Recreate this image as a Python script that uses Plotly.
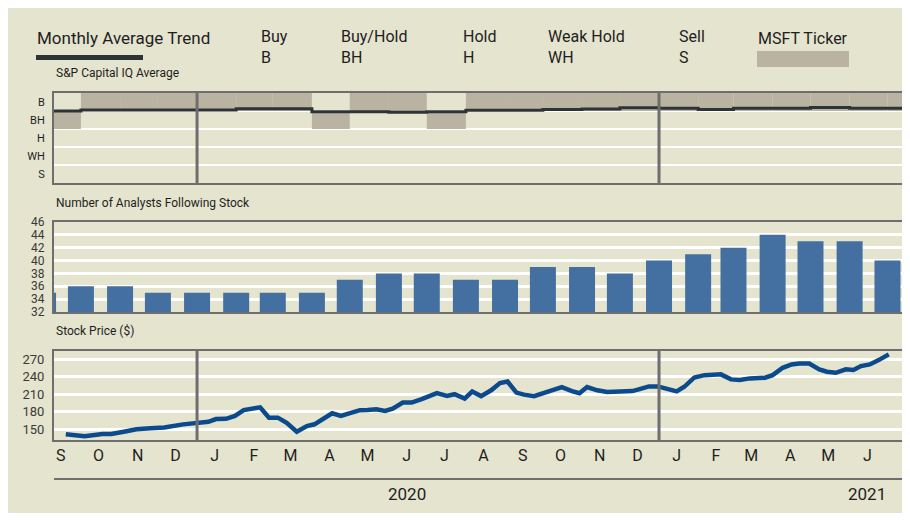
import plotly.graph_objects as go
import pandas as pd

# ---------------- data ----------------
month_starts = pd.date_range("2019-09-01", "2021-07-01", freq="MS")  # 23 months
analysts = [35, 36, 36, 35, 35, 35, 35, 35, 37, 38, 38, 37, 37, 39, 39, 38, 40, 41, 42, 44, 43, 43, 40]
ticker_rating = ["BH", "B", "B", "B", "B", "B", "B", "BH", "B", "B", "BH", "B",
                 "B", "B", "B", "B", "B", "B", "B", "B", "B", "B", "B"]
sp_average = [1.50, 1.44, 1.44, 1.44, 1.44, 1.37, 1.37, 1.54, 1.54, 1.57, 1.54, 1.46,
              1.46, 1.41, 1.39, 1.32, 1.35, 1.41, 1.35, 1.35, 1.30, 1.35, 1.35]
sp_average_end = "2021-07-15"

rating_labels = ["B", "BH", "H", "WH", "S"]
rating_values = [1, 2, 3, 4, 5]

price_dates = ["2019-09-19", "2019-09-27", "2019-10-04", "2019-10-18", "2019-10-25", "2019-11-04",
               "2019-11-14", "2019-11-25", "2019-12-06", "2019-12-21", "2020-01-01", "2020-01-10",
               "2020-01-16", "2020-01-24", "2020-01-31", "2020-02-07", "2020-02-20", "2020-02-27",
               "2020-03-05", "2020-03-12", "2020-03-20", "2020-03-28", "2020-04-03", "2020-04-09",
               "2020-04-17", "2020-04-24", "2020-05-01", "2020-05-09", "2020-05-15", "2020-05-22",
               "2020-05-29", "2020-06-04", "2020-06-12", "2020-06-19", "2020-06-27", "2020-07-03",
               "2020-07-09", "2020-07-17", "2020-07-23", "2020-07-31", "2020-08-06", "2020-08-13",
               "2020-08-21", "2020-08-28", "2020-09-03", "2020-09-10", "2020-09-16", "2020-09-24",
               "2020-10-02", "2020-10-10", "2020-10-16", "2020-10-24", "2020-10-30", "2020-11-05",
               "2020-11-13", "2020-11-21", "2020-12-02", "2020-12-11", "2020-12-18", "2020-12-24",
               "2020-12-31", "2021-01-07", "2021-01-15", "2021-01-21", "2021-01-29", "2021-02-06",
               "2021-02-14", "2021-02-19", "2021-02-27", "2021-03-06", "2021-03-14", "2021-03-26",
               "2021-04-01", "2021-04-09", "2021-04-16", "2021-04-22", "2021-04-30", "2021-05-08",
               "2021-05-14", "2021-05-21", "2021-05-29", "2021-06-04", "2021-06-10", "2021-06-17",
               "2021-06-24", "2021-07-02"]
price_values = [141.4, 139.7, 138.0, 142.0, 142.0, 146.0,
                150.0, 151.7, 153.0, 158.5, 160.5, 163.0,
                167.7, 168.0, 173.0, 183.0, 187.7, 170.0,
                170.0, 161.0, 146.0, 155.7, 158.6, 167.0,
                177.6, 173.0, 177.6, 182.8, 183.0, 184.5,
                181.6, 185.6, 196.0, 196.0, 201.7, 206.0,
                212.0, 207.4, 210.3, 202.8, 214.8, 207.0,
                217.0, 229.4, 232.0, 213.0, 209.5, 207.0,
                213.0, 217.0, 222.5, 215.7, 212.0, 222.5,
                217.0, 214.0, 215.0, 215.7, 220.0, 223.7,
                223.7, 219.8, 215.0, 223.0, 239.0, 243.0,
                244.8, 244.3, 235.7, 234.5, 237.4, 238.5,
                243.0, 255.6, 261.4, 263.0, 263.0, 252.9,
                248.8, 247.0, 253.0, 251.7, 258.5, 261.4,
                268.8, 278.6]

month_letters = ["S", "O", "N", "D", "J", "F", "M", "A", "M", "J", "J", "A",
                 "S", "O", "N", "D", "J", "F", "M", "A", "M", "J"]
year_labels = ["2020", "2021"]

analyst_ticks = [32, 34, 36, 38, 40, 42, 44, 46]
price_ticks = [150, 180, 210, 240, 270]

legend_full = ["Buy", "Buy/Hold", "Hold", "Weak Hold", "Sell"]
legend_short = ["B", "BH", "H", "WH", "S"]

# ---------------- styling ----------------
BG = "#E5E4CE"
FRAME = "#6E6E6E"
BAND = "#BAB3A2"
DARK = "#2D3438"
BARC = "#4470A1"
PRICEC = "#0B4A8C"
TXT = "#1E1E1E"
FONT = "Roboto"

OFF = 8                 # page offset of the figure in the browser
W, H = 902, 505
ML, MR = 46, 8
PW = W - ML - MR


def px(x):
    """screen x pixel -> paper fraction"""
    return (x - OFF - ML) / PW


def py(y):
    """screen y pixel -> paper fraction"""
    return 1 - (y - OFF) / H


x_range = ["2019-09-09 16:00", "2021-07-12 12:00"]
day_ms = 86400000

# bands for ticker rating
band_width = [((month_starts[i + 1] if i + 1 < len(month_starts) else pd.Timestamp("2021-08-01"))
               - month_starts[i]).days * day_ms for i in range(len(month_starts))]
rating_map = dict(zip(rating_labels, rating_values))
band_base = [rating_map[r] - 0.5 for r in ticker_rating]

fig = go.Figure()

fig.add_trace(go.Bar(
    x=month_starts, y=[1] * len(month_starts), base=band_base, width=band_width, offset=0,
    marker=dict(color=BAND, line=dict(width=0)), xaxis="x", yaxis="y", showlegend=False,
    hoverinfo="skip"))

sp_x = list(month_starts) + [pd.Timestamp(sp_average_end)]
sp_y = sp_average + [sp_average[-1]]
fig.add_trace(go.Scatter(
    x=sp_x, y=sp_y, mode="lines", line=dict(color=DARK, width=3, shape="hv"),
    xaxis="x", yaxis="y", showlegend=False))

fig.add_trace(go.Bar(
    x=month_starts, y=analysts, width=20.6 * day_ms, marker=dict(color=BARC, line=dict(width=0)),
    xaxis="x2", yaxis="y2", showlegend=False))

fig.add_trace(go.Scatter(
    x=pd.to_datetime(price_dates), y=price_values, mode="lines",
    line=dict(color=PRICEC, width=4.5), xaxis="x3", yaxis="y3", showlegend=False))

axis_common = dict(showline=True, mirror=True, linecolor=FRAME, linewidth=2, zeroline=False)

mid_months = [m + pd.Timedelta(days=14) for m in month_starts[:-1]]

fig.update_layout(
    width=W, height=H,
    paper_bgcolor=BG, plot_bgcolor=BG,
    margin=dict(l=ML, r=MR, t=0, b=0, autoexpand=False),
    barmode="overlay",
    font=dict(family=FONT, color=TXT),
    xaxis=dict(domain=[0, 1], anchor="y", type="date", range=x_range, showgrid=False,
               showticklabels=False, **axis_common),
    yaxis=dict(domain=[py(183), py(93)], anchor="x", range=[5.5, 0.5], tickvals=rating_values,
               ticktext=rating_labels, showgrid=False, ticks="outside", ticklen=5, tickcolor=BG,
               tickfont=dict(size=11, color=TXT),
               minor=dict(tickvals=[1.5, 2.5, 3.5, 4.5], showgrid=True, gridcolor="white",
                          gridwidth=2, ticks=""),
               **axis_common),
    xaxis2=dict(domain=[0, 1], anchor="y2", type="date", range=x_range, showgrid=False,
                showticklabels=False, **axis_common),
    yaxis2=dict(domain=[py(312), py(222)], anchor="x2", range=[32, 46], tickvals=analyst_ticks,
                showgrid=True, gridcolor="white", gridwidth=2.5, ticks="outside", ticklen=5,
                tickcolor=BG, tickfont=dict(size=12, color="#3A3A3A"), **axis_common),
    xaxis3=dict(domain=[0, 1], anchor="y3", type="date", range=x_range, showgrid=False,
                tickvals=mid_months, ticktext=month_letters, ticks="",
                tickfont=dict(size=16, color=TXT), **axis_common),
    yaxis3=dict(domain=[py(440), py(351)], anchor="x3", range=[131.7, 284.4], tickvals=price_ticks,
                showgrid=True, gridcolor="white", gridwidth=2.5, ticks="outside", ticklen=5,
                tickcolor=BG, tickfont=dict(size=13, color="#3A3A3A"), **axis_common),
)

shapes = []
for sep in ["2020-01-01", "2021-01-01"]:
    for xr, yr in [("x", "y domain"), ("x3", "y3 domain")]:
        shapes.append(dict(type="line", xref=xr, yref=yr, x0=sep, x1=sep, y0=0, y1=1,
                           line=dict(color=FRAME, width=3), layer="above"))
# legend swatches and year rule
shapes.append(dict(type="rect", xref="paper", yref="paper", x0=px(36), x1=px(143), y0=py(60), y1=py(55),
                   fillcolor=DARK, line=dict(width=0)))
shapes.append(dict(type="rect", xref="paper", yref="paper", x0=px(757), x1=px(849), y0=py(67), y1=py(51),
                   fillcolor=BAND, line=dict(width=0)))
shapes.append(dict(type="line", xref="paper", yref="paper", x0=0, x1=1, y0=py(479), y1=py(479),
                   line=dict(color=FRAME, width=2)))
fig.update_layout(shapes=shapes)

ann = []


def add_text(text, x, y, size, anchor="left"):
    ann.append(dict(text=text, xref="paper", yref="paper", x=px(x), y=py(y), xanchor=anchor,
                    yanchor="middle", showarrow=False, align="left",
                    font=dict(size=size, color=TXT, family=FONT)))


add_text("Monthly Average Trend", 35, 38, 17)
add_text("S&P Capital IQ Average", 54, 73, 12)
legend_x = [259, 339, 461, 546, 677]
for full, short, xx in zip(legend_full, legend_short, legend_x):
    add_text(f"{full}<br>{short}", xx, 47, 16)
add_text("MSFT Ticker", 756, 38, 16)
add_text("Number of Analysts Following Stock", 54, 203, 12)
add_text("Stock Price ($)", 54, 331, 12)

for yl in year_labels:
    ann.append(dict(text=yl, xref="x3", yref="paper", x=f"{yl}-06-15", y=py(494), xanchor="center",
                    yanchor="middle", showarrow=False, font=dict(size=17, color=TXT, family=FONT)))

fig.update_layout(annotations=ann)

fig.write_html("out.html")
